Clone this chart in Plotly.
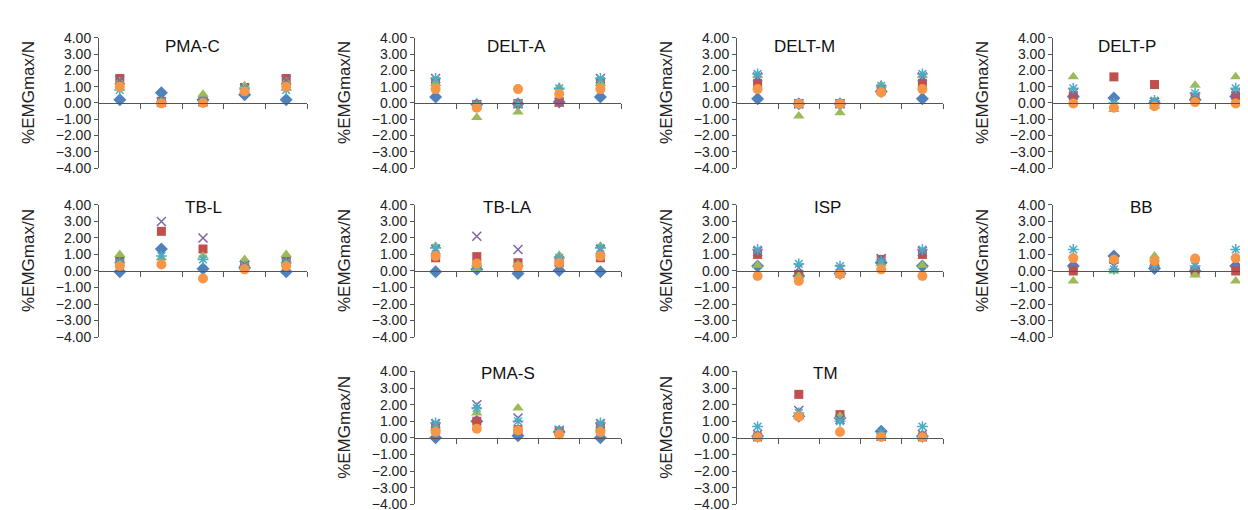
import plotly.graph_objects as go

W, H = 1248, 510

conditions = [1, 2, 3, 4, 5]
series_names = ["Series 1", "Series 2", "Series 3", "Series 4", "Series 5", "Series 6"]
y_ticks = [-4, -3, -2, -1, 0, 1, 2, 3, 4]

# values per muscle: [blue, red, green, purple, light blue, orange]
PMA_C = [[0.2, 0.63, 0.2, 0.5, 0.2],
         [1.5, 0.1, 0.05, 0.95, 1.5],
         [1.3, 0.05, 0.53, 1.05, 1.3],
         [1.4, 0.05, 0.1, 0.9, 1.4],
         [0.8, 0.05, 0.1, 0.85, 0.8],
         [1.0, -0.03, 0.0, 0.7, 1.0]]
DELT_A = [[0.37, -0.1, -0.05, 0.05, 0.37],
          [1.3, -0.1, -0.05, 0.05, 1.3],
          [1.2, -0.9, -0.55, 0.95, 1.2],
          [1.5, -0.1, -0.05, 0.05, 1.5],
          [1.5, -0.1, -0.05, 0.9, 1.5],
          [0.85, -0.3, 0.85, 0.55, 0.85]]
DELT_M = [[0.25, -0.05, -0.05, 0.7, 0.25],
          [1.2, -0.05, -0.05, 0.75, 1.2],
          [1.7, -0.8, -0.6, 1.1, 1.7],
          [1.6, -0.05, -0.05, 0.85, 1.6],
          [1.78, -0.05, -0.05, 1.05, 1.78],
          [0.85, -0.05, -0.05, 0.65, 0.85]]
DELT_P = [[0.4, 0.3, 0.0, 0.2, 0.4],
          [0.45, 1.6, 1.13, 0.3, 0.45],
          [1.6, -0.4, -0.2, 1.08, 1.6],
          [0.6, 0.0, 0.05, 0.4, 0.6],
          [0.9, 0.0, 0.15, 0.6, 0.9],
          [-0.03, -0.3, -0.2, 0.05, -0.03]]
TB_L = [[-0.05, 1.33, 0.13, 0.2, -0.05],
        [0.6, 2.4, 1.33, 0.4, 0.6],
        [1.0, 0.8, 0.9, 0.7, 1.0],
        [0.55, 3.0, 2.0, 0.35, 0.55],
        [0.5, 0.9, 0.7, 0.3, 0.5],
        [0.3, 0.4, -0.45, 0.1, 0.3]]
TB_LA = [[-0.05, 0.1, -0.15, 0.03, -0.05],
         [0.8, 0.87, 0.5, 0.5, 0.8],
         [1.5, 0.15, 0.4, 0.95, 1.5],
         [1.3, 2.1, 1.3, 0.6, 1.3],
         [1.4, 0.3, 0.3, 0.8, 1.4],
         [0.9, 0.45, 0.25, 0.5, 0.9]]
ISP = [[0.3, -0.3, -0.15, 0.5, 0.3],
       [1.0, -0.2, -0.15, 0.7, 1.0],
       [0.35, -0.3, -0.15, 0.45, 0.35],
       [1.2, 0.2, 0.1, 0.75, 1.2],
       [1.3, 0.43, 0.3, 0.6, 1.3],
       [-0.3, -0.6, -0.2, 0.1, -0.3]]
BB = [[0.3, 0.9, 0.15, 0.0, 0.3],
      [0.0, 0.7, 0.35, 0.0, 0.0],
      [-0.6, 0.0, 0.9, -0.25, -0.6],
      [0.6, 0.3, 0.4, 0.4, 0.6],
      [1.3, 0.1, 0.3, 0.3, 1.3],
      [0.78, 0.7, 0.6, 0.75, 0.78]]
PMA_S = [[0.0, 1.0, 0.13, 0.35, 0.0],
         [0.7, 1.0, 0.5, 0.4, 0.7],
         [0.6, 1.5, 1.8, 0.3, 0.6],
         [0.85, 2.0, 1.2, 0.45, 0.85],
         [0.9, 1.8, 1.0, 0.45, 0.9],
         [0.35, 0.55, 0.45, 0.2, 0.35]]
TM = [[0.1, 1.3, 1.2, 0.4, 0.1],
      [0.05, 2.62, 1.4, 0.1, 0.05],
      [0.05, 1.25, 1.3, 0.1, 0.05],
      [0.2, 1.65, 1.1, 0.1, 0.2],
      [0.68, 1.5, 1.0, 0.3, 0.68],
      [0.03, 1.28, 0.35, 0.05, 0.03]]

panels = [("PMA-C", PMA_C), ("DELT-A", DELT_A), ("DELT-M", DELT_M), ("DELT-P", DELT_P),
          ("TB-L", TB_L), ("TB-LA", TB_LA), ("ISP", ISP), ("BB", BB),
          ("PMA-S", PMA_S), ("TM", TM)]

# layout (pixels)
cols = [(91, 299), (407, 613), (729, 935), (1045, 1248)]
rows = [(22.5, 157), (195, 331.5), (367, 504)]
cells = [(0, 0), (0, 1), (0, 2), (0, 3), (1, 0), (1, 1), (1, 2), (1, 3), (2, 1), (2, 2)]
title_pos = [(184, 32), (508, 32), (797, 32), (1119, 32),
             (195, 198), (499, 198), (819, 198), (1133, 198),
             (500, 369), (817, 369)]

styles = [
    dict(symbol="diamond", color="#4F81BD", size=10),
    dict(symbol="square", color="#C0504D", size=9),
    dict(symbol="triangle-up", color="#9BBB59", size=10),
    dict(symbol="x-thin-open", color="#8064A2", size=9, line=dict(color="#8064A2", width=1.5)),
    dict(symbol="asterisk-open", color="#4BACC6", size=9, line=dict(color="#4BACC6", width=1.5)),
    dict(symbol="circle", color="#F79646", size=10),
]

tick_font = dict(family="Liberation Sans, Arial", size=14, color="#222222")
title_font = dict(family="Liberation Sans, Arial", size=17, color="#111111")

fig = go.Figure()
layout = dict(width=W, height=H, margin=dict(l=0, r=0, t=0, b=0),
              paper_bgcolor="white", plot_bgcolor="rgba(0,0,0,0)", showlegend=False)
annotations = []

for i, (name, data) in enumerate(panels):
    n = i + 1
    r, c = cells[i]
    x0, x1 = cols[c]
    ytop, ybot = rows[r]
    xd = [x0 / W, x1 / W]
    yd = [1 - ybot / H, 1 - ytop / H]
    xs = "" if n == 1 else str(n)
    for k, vals in enumerate(data):
        fig.add_trace(go.Scatter(x=conditions, y=vals, mode="markers", name=series_names[k],
                                 marker=styles[k], xaxis="x" + xs, yaxis="y" + xs,
                                 cliponaxis=False))
    layout["xaxis" + xs] = dict(domain=xd, range=[0.5, 5.5], anchor="free",
                                position=(yd[0] + yd[1]) / 2, showline=True, linecolor="#555555",
                                linewidth=1, ticks="outside", ticklen=5, tickcolor="#555555",
                                tickvals=[1.5, 2.5, 3.5, 4.5, 5.5], showticklabels=False,
                                showgrid=False, zeroline=False, fixedrange=True)
    layout["yaxis" + xs] = dict(domain=yd, range=[-4, 4], anchor="x" + xs, showline=True,
                                linecolor="#555555", linewidth=1, ticks="outside", ticklen=4,
                                tickcolor="#555555", tickvals=y_ticks, tickformat=".2f",
                                tickfont=tick_font, showgrid=False, zeroline=False, fixedrange=True)
    tx, ty = title_pos[i]
    annotations.append(dict(text=name, xref="paper", yref="paper", x=tx / W, y=1 - ty / H,
                            showarrow=False, font=title_font, xanchor="center", yanchor="middle"))
    annotations.append(dict(text="%EMGmax/N", xref="x" + xs + " domain", yref="y" + xs + " domain",
                            x=0, y=0.5, xshift=-70, yshift=10, textangle=-90, showarrow=False,
                            font=dict(family="Liberation Sans, Arial", size=17, color="#222222"),
                            xanchor="center", yanchor="middle"))

layout["annotations"] = annotations
fig.update_layout(**layout)
fig.write_html("out.html")
